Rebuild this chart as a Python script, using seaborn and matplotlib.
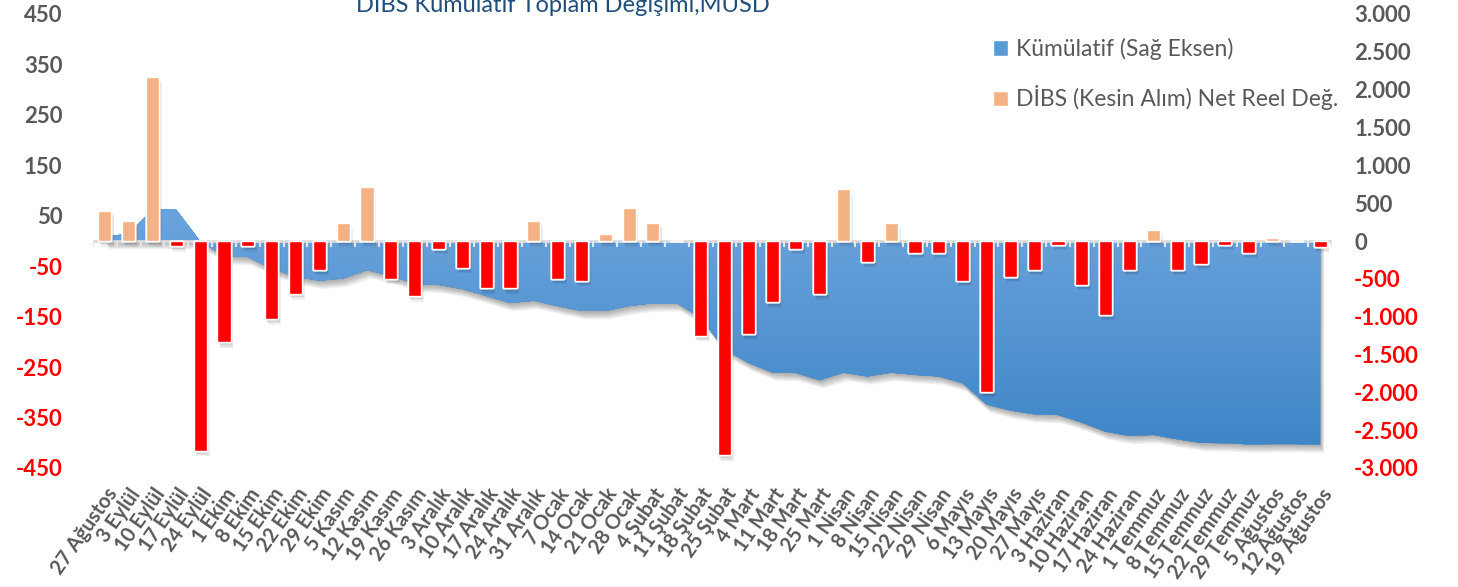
import numpy as np
import matplotlib
matplotlib.use("Agg")
import matplotlib.pyplot as plt
import matplotlib.patheffects as pe
from matplotlib.colors import LinearSegmentedColormap
from matplotlib.patches import Patch
import seaborn as sns

# ============================================================
# Data
# ============================================================

dates = [
    "27 Ağustos", "3 Eylül", "10 Eylül", "17 Eylül", "24 Eylül", "1 Ekim", "8 Ekim",
    "15 Ekim", "22 Ekim", "29 Ekim", "5 Kasım", "12 Kasım", "19 Kasım", "26 Kasım",
    "3 Aralık", "10 Aralık", "17 Aralık", "24 Aralık", "31 Aralık", "7 Ocak", "14 Ocak",
    "21 Ocak", "28 Ocak", "4 Şubat", "11 Şubat", "18 Şubat", "25 Şubat", "4 Mart",
    "11 Mart", "18 Mart", "25 Mart", "1 Nisan", "8 Nisan", "15 Nisan", "22 Nisan",
    "29 Nisan", "6 Mayıs", "13 Mayıs", "20 Mayıs", "27 Mayıs", "3 Haziran", "10 Haziran",
    "17 Haziran", "24 Haziran", "1 Temmuz", "8 Temmuz", "15 Temmuz", "22 Temmuz",
    "29 Temmuz", "5 Ağustos", "12 Ağustos", "19 Ağustos",
]

# weekly net flow, MUSD (left axis)
net_flow = [
    60, 39, 326, -10, -416, -201, -10, -155, -105, -57, 35, 107, -75, -109,
    -15, -53, -94, -94, 40, -75, -79, 14, 65, 36, 0, -188, -425, -185,
    -121, -15, -105, 103, -41, 36, -23, -23, -79, -299, -71, -57, -7, -87,
    -146, -57, 22, -57, -46, -7, -23, 6, 0, -11,
]

# cumulative, MUSD (right axis)
cumulative = [
    60, 95, 420, 412, -5, -200, -212, -365, -470, -525, -495, -385, -460, -565,
    -580, -635, -725, -820, -790, -860, -925, -925, -860, -823, -823, -1010, -1430, -1610,
    -1735, -1745, -1840, -1740, -1790, -1740, -1770, -1790, -1880, -2160, -2240, -2290, -2300, -2400,
    -2520, -2576, -2563, -2620, -2668, -2672, -2688, -2684, -2684, -2690,
]

left_ticks = list(range(450, -451, -100))
right_ticks = list(range(3000, -3001, -500))

title = "DİBS Kümülatif Toplam Değişimi,MUSD"
label_cum = "Kümülatif (Sağ Eksen)"
label_net = "DİBS (Kesin Alım) Net Reel Değ."

# ============================================================
# Style
# ============================================================

sns.set_style("white")
plt.rcParams["font.family"] = ["Lato", "DejaVu Sans"]

GRAY = "#595959"
RED = "#FF0000"
ORANGE = "#F4B183"
BLUE = "#5B9BD5"


def soft_shadow(steps, alpha):
    # stack a few faint offset copies to imitate a blurred drop shadow
    effects = [pe.withSimplePatchShadow(offset=(0.5 * k, -k), shadow_rgbFace="k", alpha=alpha)
               for k in range(steps, 0, -1)]
    return effects + [pe.Normal()]


fig = plt.figure(figsize=(14.58, 5.87), dpi=100)
W, H = 1458, 587
ax = fig.add_axes([93 / W, 1 - 468 / H, (1332 - 93) / W, (468 - 14) / H])
ax2 = ax.twinx()

# ============================================================
# Cumulative area (right axis) with gradient + shadow
# ============================================================

xs = np.arange(len(dates))
poly = ax2.fill_between(xs, cumulative, 0, color=BLUE, lw=0, zorder=1)
poly.set_path_effects(soft_shadow(6, 0.06))

grad = np.linspace(0, 1, 256).reshape(-1, 1)
cmap = LinearSegmentedColormap.from_list("area_blue", ["#6CA4DD", "#3F86C7"])
im = ax2.imshow(grad, extent=(-0.5, len(dates) - 0.5, min(cumulative) - 20, max(cumulative) + 20),
                aspect="auto", cmap=cmap, origin="upper", zorder=2)
im.set_clip_path(poly.get_paths()[0], transform=ax2.transData)

ax2.set_ylim(-3000, 3000)
ax2.set_yticks(right_ticks)
ax2.set_yticklabels([f"{v:,.0f}".replace(",", ".") for v in right_ticks])
for lbl, v in zip(ax2.get_yticklabels(), right_ticks):
    lbl.set_color(RED if v < 0 else GRAY)
    lbl.set_fontweight("bold")
    lbl.set_fontsize(16)
ax2.tick_params(axis="y", length=0, pad=16)

# ============================================================
# Weekly bars (left axis)
# ============================================================

sign = ["pos" if v >= 0 else "neg" for v in net_flow]
sns.barplot(x=dates, y=net_flow, hue=sign, palette={"pos": ORANGE, "neg": RED},
            dodge=False, width=0.55, saturation=1, legend=False, ax=ax, zorder=3)
for p in ax.patches:
    p.set_path_effects(soft_shadow(4, 0.06))

# category axis drawn through zero with small ticks between categories
ax.axhline(0, color="#D9D9D9", lw=2, zorder=2)
ax.vlines(np.arange(len(dates) + 1) - 0.5, -12, 0, color="#E6E6E6", lw=1.5, zorder=2)

ax.set_zorder(ax2.get_zorder() + 1)
ax.patch.set_visible(False)

ax.set_xlim(-0.5, len(dates) - 0.5)
ax.set_ylim(-450, 450)
ax.set_yticks(left_ticks)
ax.set_yticklabels([str(v) for v in left_ticks])
for lbl, v in zip(ax.get_yticklabels(), left_ticks):
    lbl.set_color(RED if v < 0 else GRAY)
    lbl.set_fontweight("bold")
    lbl.set_fontsize(16)
ax.tick_params(axis="y", length=0, pad=22)

ax.set_xticks(xs)
ax.set_xticklabels(dates, rotation=55, ha="right", rotation_mode="anchor",
                   fontsize=14.5, fontweight="bold", color=GRAY)
ax.tick_params(axis="x", length=0, pad=12)
ax.set_xlabel("")
ax.set_ylabel("")

for a in (ax, ax2):
    for s in a.spines.values():
        s.set_visible(False)
    a.grid(False)

# ============================================================
# Title and legend
# ============================================================

fig.text(563 / W, 1 - 11.5 / H, title, ha="center", va="baseline",
         fontsize=17, color="#1F4E79")

handles = [Patch(facecolor=BLUE), Patch(facecolor=ORANGE)]
fig.legend(handles, [label_cum, label_net], loc="upper left",
           bbox_to_anchor=(993 / W, 1 - 38 / H), frameon=False, fontsize=16.5,
           labelcolor=GRAY, handlelength=0.65, handleheight=0.65,
           handletextpad=0.35, labelspacing=1.1, borderaxespad=0, borderpad=0)

fig.savefig("out.png", dpi=100)
